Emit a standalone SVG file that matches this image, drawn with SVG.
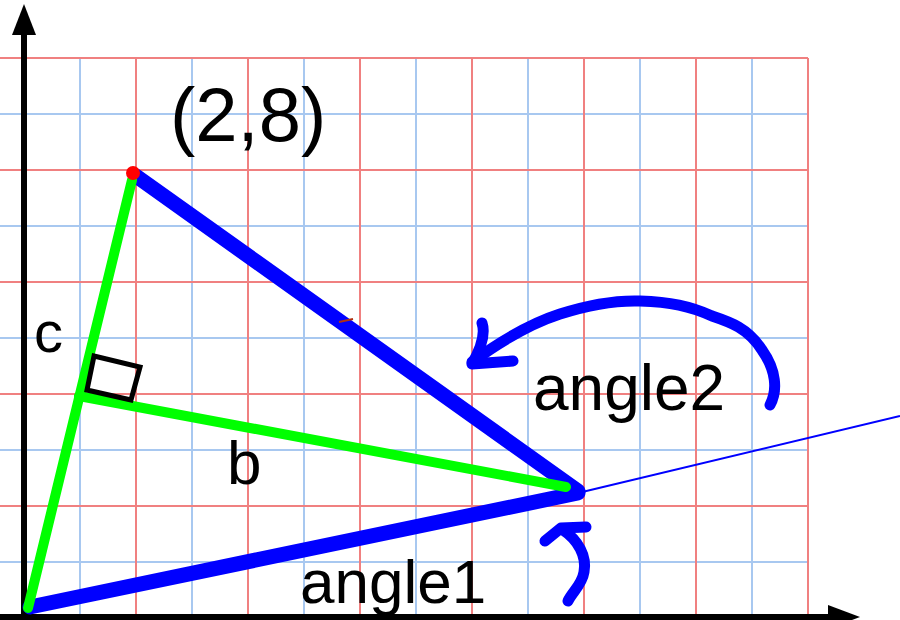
<svg xmlns="http://www.w3.org/2000/svg" width="900" height="620" viewBox="0 0 900 620">
  <style>
    .gr { stroke: #f08080; stroke-width: 2; }
    .gb { stroke: #a8c8f0; stroke-width: 2; }
    .ax { stroke: #000; stroke-width: 6; fill: none; }
    .thick { stroke: #0000ff; stroke-width: 15; stroke-linecap: round; fill: none; }
    .green { stroke: #00ff00; stroke-width: 10; stroke-linecap: round; fill: none; }
    .hand { stroke: #0000ff; stroke-width: 11; stroke-linecap: round; stroke-linejoin: round; fill: none; }
    .lbl { font-family: "Liberation Sans", Arial, sans-serif; fill: #000; }
  </style>
  <rect width="900" height="620" fill="#fff"/>
  <g id="grid">
    <line class="gb" x1="0" y1="114" x2="808" y2="114"/>
    <line class="gb" x1="0" y1="226" x2="808" y2="226"/>
    <line class="gb" x1="0" y1="338" x2="808" y2="338"/>
    <line class="gb" x1="0" y1="450" x2="808" y2="450"/>
    <line class="gb" x1="0" y1="562" x2="808" y2="562"/>
    <line class="gb" x1="80" y1="58" x2="80" y2="618"/>
    <line class="gb" x1="192" y1="58" x2="192" y2="618"/>
    <line class="gb" x1="304" y1="58" x2="304" y2="618"/>
    <line class="gb" x1="416" y1="58" x2="416" y2="618"/>
    <line class="gb" x1="528" y1="58" x2="528" y2="618"/>
    <line class="gb" x1="640" y1="58" x2="640" y2="618"/>
    <line class="gb" x1="752" y1="58" x2="752" y2="618"/>
    <line class="gr" x1="0" y1="58" x2="808" y2="58"/>
    <line class="gr" x1="0" y1="170" x2="808" y2="170"/>
    <line class="gr" x1="0" y1="282" x2="808" y2="282"/>
    <line class="gr" x1="0" y1="394" x2="808" y2="394"/>
    <line class="gr" x1="0" y1="506" x2="808" y2="506"/>
    <line class="gr" x1="136" y1="58" x2="136" y2="618"/>
    <line class="gr" x1="248" y1="58" x2="248" y2="618"/>
    <line class="gr" x1="360" y1="58" x2="360" y2="618"/>
    <line class="gr" x1="472" y1="58" x2="472" y2="618"/>
    <line class="gr" x1="584" y1="58" x2="584" y2="618"/>
    <line class="gr" x1="696" y1="58" x2="696" y2="618"/>
    <line class="gr" x1="808" y1="58" x2="808" y2="618"/>
  </g>
  <g id="axes">
    <line class="ax" x1="24" y1="620" x2="24" y2="30"/>
    <polygon points="24,4 12,35 36,35" fill="#000"/>
    <line class="ax" x1="0" y1="617" x2="832" y2="617"/>
    <polygon points="860,617 828,605 828,629" fill="#000"/>
  </g>
  <g id="connectors">
    <line x1="578" y1="493" x2="900" y2="416" stroke="#0000ff" stroke-width="2"/>
    <line class="thick" x1="30" y1="607" x2="578" y2="493"/>
    <line class="thick" x1="136" y1="176" x2="578" y2="491" stroke-width="16"/>
    <line class="green" x1="28" y1="608" x2="132" y2="180"/>
    <line class="green" x1="79" y1="396" x2="566" y2="487"/>
    <polygon points="94,356 140,367 131,400 87,390" fill="none" stroke="#000" stroke-width="5"/>
    <line x1="339" y1="322" x2="353" y2="319" stroke="#b03010" stroke-width="2"/>
  </g>
  <g id="vertex-2-8">
    <circle cx="133" cy="173" r="7" fill="#ff0000"/>
  </g>
  <g id="arrow-angle2">
    <path class="hand" d="M770,405 C778,390 776,370 762,350 C748,328 730,322 712,316 C690,306 670,302 640,301 C610,300 585,306 560,314 C535,322 505,338 472,362"/>
    <path class="hand" d="M482,323 C486,335 480,350 472,364 L513,361"/>
  </g>
  <g id="arrow-angle1">
    <path class="hand" d="M568,601 C572,592 582,585 584,572 C587,556 578,540 563,530"/>
    <path class="hand" d="M545,541 L561,528 L586,527"/>
  </g>
  <g id="labels">
    <text class="lbl" x="170" y="141" font-size="76">(2,8)</text>
    <text class="lbl" x="34" y="352" font-size="58">c</text>
    <text class="lbl" x="227" y="484" font-size="62">b</text>
    <text class="lbl" x="533" y="410" font-size="64">angle2</text>
    <text class="lbl" x="300" y="603" font-size="62">angle1</text>
  </g>
</svg>
